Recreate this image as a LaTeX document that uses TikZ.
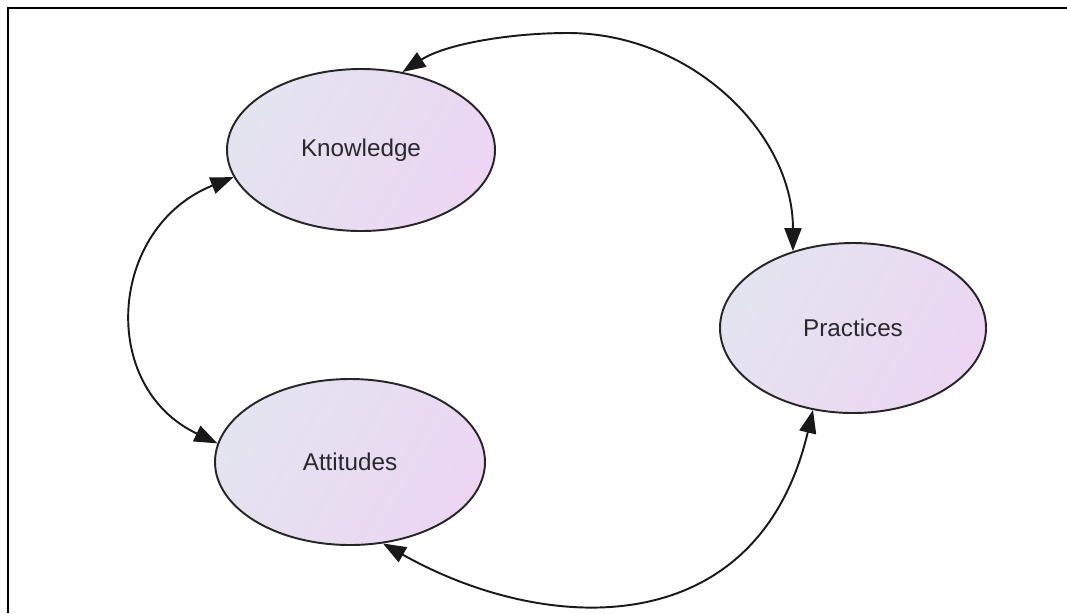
\documentclass[tikz,border=0pt]{standalone}
\usepackage{fontspec}
\setmainfont{Liberation Sans}
\usetikzlibrary{shapes.geometric,arrows.meta}

\definecolor{fillA}{RGB}{227,228,239}
\definecolor{fillB}{RGB}{236,214,243}
\definecolor{labelgray}{RGB}{40,40,45}

\tikzset{
  topic/.style={ellipse, draw=black!85, line width=1.1pt,
    left color=fillA, right color=fillB, shading angle=60,
    font=\fontsize{13.8}{16}\selectfont, text=labelgray, inner sep=0pt},
  link/.style={line width=1.1pt, black!90,
    {Triangle[length=0.46cm,width=0.34cm]}-{Triangle[length=0.46cm,width=0.34cm]}},
  frame/.style={line width=1.6pt, black}
}

\begin{document}
\begin{tikzpicture}[x=0.02cm,y=-0.02cm]
  \useasboundingbox (0,0) rectangle (1067,613);

  % outer frame (top and left edges)
  \draw[frame] (8,613) -- (8,8) -- (1067,8);

  % the three topics
  \node[topic, minimum width=268*0.02cm, minimum height=162*0.02cm] (K) at (361,150) {Knowledge};
  \node[topic, minimum width=266*0.02cm, minimum height=170*0.02cm] (P) at (853,328) {Practices};
  \node[topic, minimum width=270*0.02cm, minimum height=166*0.02cm] (A) at (350,462) {Attitudes};

  % highest point of the upper link
  \coordinate (crest) at (568,33);

  % two-way links
  \draw[link] (K.62) .. controls +(43,-28) and +(-58,0) .. (crest)
                     .. controls +(122,0) and +(0,-119) .. (P.128);
  \draw[link] (K.192) .. controls +(-125,50) and +(-120,-57) .. (A.172);
  \draw[link] (A.-68) .. controls +(165,93) and +(-55,233) .. (P.-116);
\end{tikzpicture}
\end{document}
